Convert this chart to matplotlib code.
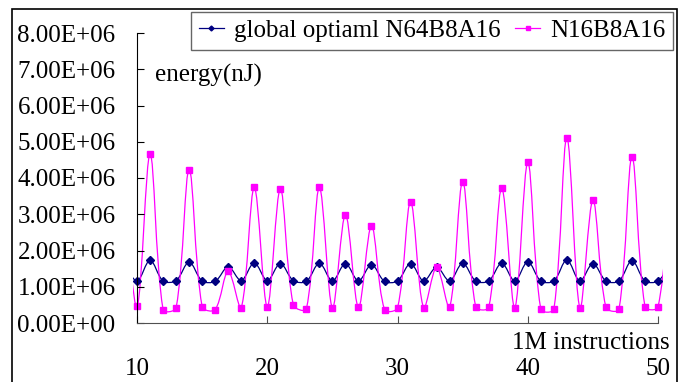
import matplotlib
matplotlib.use("Agg")
import matplotlib.pyplot as plt
import numpy as np
from matplotlib.path import Path
from matplotlib.patches import PathPatch, Rectangle
from matplotlib.lines import Line2D
from matplotlib.ticker import FuncFormatter

plt.rcParams['font.family'] = ['Liberation Serif', 'DejaVu Serif']

# x = 9 and 51 sit just outside the axis range (the curves run off the edges)
steps = list(range(9, 52))
global_opt = [1.65, 1.16, 1.73, 1.16, 1.17, 1.68, 1.16, 1.15, 1.55, 1.17, 1.66,
              1.17, 1.64, 1.17, 1.15, 1.65, 1.16, 1.64, 1.16, 1.61, 1.15,
              1.16, 1.64, 1.16, 1.54, 1.16, 1.65, 1.16, 1.16, 1.65, 1.16,
              1.69, 1.16, 1.16, 1.74, 1.16, 1.64, 1.16, 1.16, 1.72, 1.16,
              1.16, 1.65]
n16 = [3.5, 0.46, 4.66, 0.37, 0.42, 4.23, 0.45, 0.37, 1.43, 0.42, 3.74,
       0.45, 3.70, 0.50, 0.39, 3.74, 0.42, 2.99, 0.43, 2.68, 0.37,
       0.42, 3.34, 0.42, 1.54, 0.43, 3.90, 0.45, 0.43, 3.72, 0.42,
       4.43, 0.38, 0.38, 5.11, 0.42, 3.39, 0.43, 0.38, 4.58, 0.45,
       0.44, 4.0]
global_opt = [v * 1e6 for v in global_opt]
n16 = [v * 1e6 for v in n16]

NAVY = '#000080'
MAG = '#FF00FF'

# rough pixel size of one data unit, so the smoothing behaves like excel's
SX = 13.0
SY = 36.25e-6


def smooth_path(xs, ys):
    # excel style smoothed line: bezier with tangents scaled by segment length
    pts = np.column_stack([np.asarray(xs) * SX, np.asarray(ys) * SY]).astype(float)
    n = len(pts)
    verts = [pts[0]]
    codes = [Path.MOVETO]
    for i in range(n - 1):
        p0 = pts[max(i - 1, 0)]
        p1 = pts[i]
        p2 = pts[i + 1]
        p3 = pts[min(i + 2, n - 1)]
        d01 = np.hypot(*(p1 - p0))
        d12 = np.hypot(*(p2 - p1))
        d23 = np.hypot(*(p3 - p2))
        c1 = p1 + (p2 - p0) * d12 / max(d01 + d12, 1e-9) / 3.0
        c2 = p2 - (p3 - p1) * d12 / max(d12 + d23, 1e-9) / 3.0
        verts += [c1, c2, p2]
        codes += [Path.CURVE4] * 3
    verts = np.array(verts)
    verts[:, 0] /= SX
    verts[:, 1] /= SY
    return Path(verts, codes)


fig = plt.figure(figsize=(6.88, 3.82), dpi=100)
ax = fig.add_axes([133 / 688, 1 - 323 / 382, 530 / 688, 290 / 382])
ax.patch.set_visible(False)

for ys, col, mk, ms in [(global_opt, NAVY, 'D', 4.2), (n16, MAG, 's', 4.0)]:
    ax.add_patch(PathPatch(smooth_path(steps, ys), fill=False, edgecolor=col, lw=0.9))
    ax.plot(steps, ys, ls='none', marker=mk, ms=ms, color=col)

ax.set_xlim(9.69, 50.38)
ax.set_ylim(0, 8e6)
ax.spines['left'].set_position(('data', 10))
ax.spines['bottom'].set_bounds(10, 50)
ax.spines['top'].set_visible(False)
ax.spines['right'].set_visible(False)
ax.spines['left'].set_color('black')
ax.spines['bottom'].set_color('#505050')
ax.set_xticks([10, 20, 30, 40, 50])
ax.set_yticks(np.arange(0, 8.01e6, 1e6))
ax.yaxis.set_major_formatter(FuncFormatter(lambda v, p: f"{v:.2E}"))
ax.tick_params(axis='y', direction='in', length=5, pad=15.5, labelsize=18)
ax.tick_params(axis='x', direction='in', length=5, pad=25, labelsize=18,
               color='#505050')

fig.text(155 / 688, 1 - 75 / 382, "energy(nJ)", fontsize=18, va='center')
fig.text(670 / 688, 1 - 343 / 382, "1M instructions", fontsize=18,
         ha='right', va='center')

handles = [Line2D([], [], color=NAVY, marker='D', ms=2.5, lw=0.9),
           Line2D([], [], color=MAG, marker='s', ms=2.5, lw=0.9)]
leg = fig.legend(handles, ["global optiaml N64B8A16", "N16B8A16"], ncol=2,
                 loc='upper right', bbox_to_anchor=(673 / 688, 1 - 12 / 382),
                 fontsize=18, frameon=True, fancybox=False, borderpad=0.3,
                 handlelength=1.0, handletextpad=0.4, columnspacing=0.6,
                 borderaxespad=0)
leg.get_frame().set_edgecolor('#404040')
leg.get_frame().set_linewidth(1.0)

fig.patches.append(Rectangle((12 / 688, -0.05), (677 - 12) / 688, 1.05 - 9 / 382,
                             transform=fig.transFigure, fill=False,
                             edgecolor='black', lw=1.2))

fig.savefig('out.png', dpi=100)
